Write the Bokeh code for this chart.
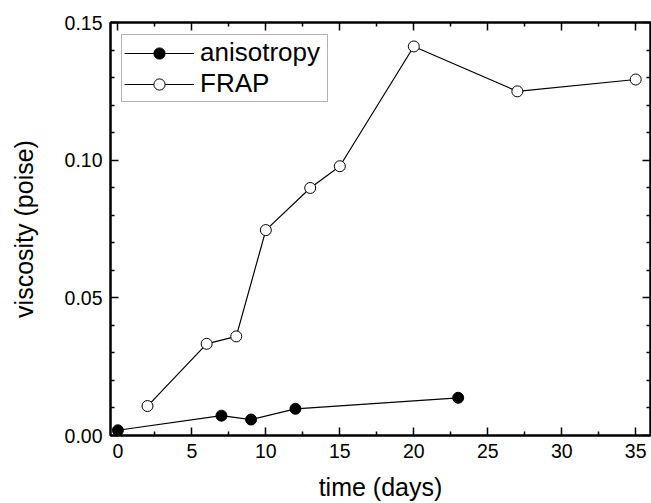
from bokeh.plotting import figure
from bokeh.models import Range1d, LinearAxis, PrintfTickFormatter, Legend, LegendItem, FixedTicker
from bokeh.embed import file_html
from bokeh.resources import INLINE

# data
aniso_t = [0, 7, 9, 12, 23]
aniso_v = [0.0019, 0.0072, 0.0058, 0.0097, 0.0137]
frap_t = [2, 6, 8, 10, 13, 15, 20, 27, 35]
frap_v = [0.0107, 0.0333, 0.0360, 0.0746, 0.0899, 0.0978, 0.1413, 0.1250, 0.1293]

x_ticks = [0, 5, 10, 15, 20, 25, 30, 35]
x_minor = [2.5, 7.5, 12.5, 17.5, 22.5, 27.5, 32.5]
y_ticks = [0.00, 0.05, 0.10, 0.15]
y_minor = [0.01, 0.02, 0.03, 0.04, 0.06, 0.07, 0.08, 0.09, 0.11, 0.12, 0.13, 0.14]

FONT = "Liberation Sans"

p = figure(width=651, height=503, output_backend="svg", toolbar_location=None,
           x_range=Range1d(-0.5, 36), y_range=Range1d(0, 0.15),
           min_border_left=110, min_border_right=1, min_border_top=22, min_border_bottom=67,
           x_axis_label="time (days)", y_axis_label="viscosity (poise)")
p.grid.visible = False
p.outline_line_color = "black"
p.outline_line_width = 2
p.background_fill_color = "white"
p.border_fill_color = "white"

def style_axis(ax, show_labels=True):
    ax.axis_line_width = 2
    ax.axis_line_color = "black"
    ax.major_tick_in = 8
    ax.major_tick_out = 0
    ax.minor_tick_in = 4
    ax.minor_tick_out = 0
    ax.major_tick_line_width = 1.5
    ax.minor_tick_line_width = 1.5
    ax.major_tick_line_color = "black"
    ax.minor_tick_line_color = "black"
    if show_labels:
        ax.major_label_text_font = FONT
        ax.major_label_text_font_size = "19.5px"
        ax.major_label_text_color = "black"
        ax.axis_label_text_font = FONT
        ax.axis_label_text_font_size = "25px"
        ax.axis_label_text_font_style = "normal"
        ax.axis_label_text_color = "black"
    else:
        ax.major_label_text_font_size = "0px"
        ax.major_label_text_alpha = 0
        ax.major_label_standoff = 0

xa = p.xaxis[0]
ya = p.yaxis[0]
xa.ticker = FixedTicker(ticks=x_ticks, minor_ticks=x_minor)
ya.ticker = FixedTicker(ticks=y_ticks, minor_ticks=y_minor)
ya.formatter = PrintfTickFormatter(format="%.2f")
style_axis(xa)
style_axis(ya)
xa.major_label_standoff = 8
ya.major_label_standoff = 8
xa.axis_label_standoff = 12
ya.axis_label_standoff = 24

top = LinearAxis(ticker=FixedTicker(ticks=x_ticks, minor_ticks=x_minor))
style_axis(top, show_labels=False)
p.add_layout(top, "above")
right = LinearAxis(ticker=FixedTicker(ticks=y_ticks, minor_ticks=y_minor))
style_axis(right, show_labels=False)
p.add_layout(right, "right")

l1 = p.line(aniso_t, aniso_v, line_color="black", line_width=1.2)
s1 = p.scatter(aniso_t, aniso_v, size=11, marker="circle", fill_color="black", line_color="black", line_width=1)
l2 = p.line(frap_t, frap_v, line_color="black", line_width=1.2)
s2 = p.scatter(frap_t, frap_v, size=11, marker="circle", fill_color="white", line_color="black", line_width=1)

legend = Legend(items=[LegendItem(label="anisotropy", renderers=[l1, s1]),
                       LegendItem(label="FRAP", renderers=[l2, s2])],
                location=(11, 333))
legend.margin = 0
legend.padding = 2
legend.spacing = 0
legend.glyph_width = 70
legend.glyph_height = 28
legend.label_height = 28
legend.label_width = 125
legend.label_standoff = 6
legend.label_text_font = FONT
legend.label_text_font_size = "26px"
legend.label_text_color = "black"
legend.border_line_color = "#666666"
legend.border_line_width = 1.5
legend.background_fill_color = "white"
legend.background_fill_alpha = 1
p.add_layout(legend, "center")

open("out.html", "w").write(file_html(p, INLINE))
